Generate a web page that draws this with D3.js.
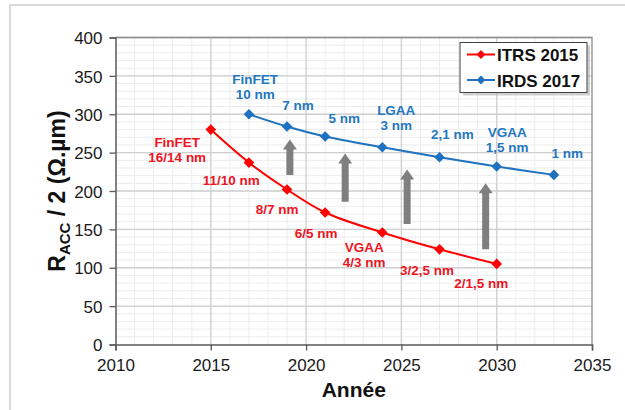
<!DOCTYPE html>
<html>
<head>
<meta charset="utf-8">
<script src="https://cdn.jsdelivr.net/npm/d3@7"></script>
<style>
  body { margin: 0; background: #fff; }
  text { font-family: "Liberation Sans", Arial, sans-serif; }
</style>
</head>
<body>
<svg id="chart" width="625" height="410"></svg>
<script>
// data
const itrs_years = [2015, 2017, 2019, 2021, 2024, 2027, 2030];
const itrs_values = [280, 237, 202, 172, 146, 124, 105];
const irds_years = [2017, 2019, 2021, 2024, 2027, 2030, 2033];
const irds_values = [300, 284, 271, 257, 244, 232, 221];

const x_ticks = [2010, 2015, 2020, 2025, 2030, 2035];
const y_ticks = [0, 50, 100, 150, 200, 250, 300, 350, 400];

// node labels: text lines, anchored at (year, value) of first baseline
const irds_labels = [
  { lines: ["FinFET", "10 nm"], year: 2017.33, value: 340 },
  { lines: ["7 nm"], year: 2019.58, value: 305 },
  { lines: ["5 nm"], year: 2022.0, value: 288 },
  { lines: ["LGAA", "3 nm"], year: 2024.73, value: 299 },
  { lines: ["2,1 nm"], year: 2027.67, value: 267.5 },
  { lines: ["VGAA", "1,5 nm"], year: 2030.55, value: 270.5 },
  { lines: ["1 nm"], year: 2033.7, value: 242.5 },
];
const itrs_labels = [
  { lines: ["FinFET", "16/14 nm"], year: 2013.24, value: 257.5 },
  { lines: ["11/10 nm"], year: 2016.07, value: 207.6 },
  { lines: ["8/7 nm"], year: 2018.48, value: 169.4 },
  { lines: ["6/5 nm"], year: 2020.53, value: 138.5 },
  { lines: ["VGAA", "4/3 nm"], year: 2023.05, value: 120.7 },
  { lines: ["3/2,5 nm"], year: 2026.34, value: 90.3 },
  { lines: ["2/1,5 nm"], year: 2029.19, value: 73.4 },
];

// grey arrows: year, from value, to value (tip)
const arrows = [
  { year: 2019.15, from: 221, to: 267 },
  { year: 2022.05, from: 186, to: 249 },
  { year: 2025.3, from: 157, to: 228 },
  { year: 2029.42, from: 124, to: 210 },
];

const red = "#ff0000";
const blue = "#1f72bf";
const red_text = "#f0141e";
const blue_text = "#2377c0";

const svg = d3.select("#chart");

// outer frame
svg.append("rect")
  .attr("x", 10).attr("y", 5)
  .attr("width", 640).attr("height", 430)
  .attr("fill", "none")
  .attr("stroke", "#d9d9d9")
  .attr("stroke-width", 2);

const plot_left = 115.5, plot_right = 592, plot_top = 37.5, plot_bottom = 344.5;

const x = d3.scaleLinear().domain([2010, 2035]).range([plot_left, plot_right]);
const y = d3.scaleLinear().domain([0, 400]).range([plot_bottom, plot_top]);

// minor grid
const g_minor = svg.append("g");
g_minor.selectAll("line.vx")
  .data(d3.range(2011, 2035))
  .enter().append("line")
  .attr("x1", d => x(d)).attr("x2", d => x(d))
  .attr("y1", plot_top).attr("y2", plot_bottom)
  .attr("stroke", "#ececec").attr("stroke-width", 1);
g_minor.selectAll("line.hy")
  .data(d3.range(10, 400, 10))
  .enter().append("line")
  .attr("x1", plot_left).attr("x2", plot_right)
  .attr("y1", d => y(d)).attr("y2", d => y(d))
  .attr("stroke", "#ececec").attr("stroke-width", 1);

// major grid
const g_major = svg.append("g");
g_major.selectAll("line.vx")
  .data(x_ticks.slice(1, -1))
  .enter().append("line")
  .attr("x1", d => x(d)).attr("x2", d => x(d))
  .attr("y1", plot_top).attr("y2", plot_bottom)
  .attr("stroke", "#cfcfcf").attr("stroke-width", 1.3);
g_major.selectAll("line.hy")
  .data(y_ticks.slice(1))
  .enter().append("line")
  .attr("x1", plot_left).attr("x2", plot_right)
  .attr("y1", d => y(d)).attr("y2", d => y(d))
  .attr("stroke", "#cfcfcf").attr("stroke-width", 1.3);

// plot border (top and right)
svg.append("path")
  .attr("d", `M${plot_left},${plot_top}H${plot_right}V${plot_bottom}`)
  .attr("fill", "none")
  .attr("stroke", "#8c8c8c")
  .attr("stroke-width", 1.3);

// axes
const x_axis = svg.append("g")
  .attr("transform", `translate(0,${plot_bottom})`)
  .call(d3.axisBottom(x).tickValues(x_ticks).tickFormat(d3.format("d")).tickSizeOuter(0).tickSize(6).tickPadding(8));
const y_axis = svg.append("g")
  .attr("transform", `translate(${plot_left},0)`)
  .call(d3.axisLeft(y).tickValues(y_ticks).tickSizeOuter(0).tickSize(6).tickPadding(7));

[x_axis, y_axis].forEach(a => {
  a.select(".domain").attr("stroke", "#595959").attr("stroke-width", 1.5);
  a.selectAll(".tick line").attr("stroke", "#595959").attr("stroke-width", 1.3);
  a.selectAll(".tick text")
    .attr("fill", "#1a1a1a")
    .style("font-size", "17px")
    .style("font-family", "'Liberation Sans', Arial, sans-serif");
});
y_axis.selectAll(".tick text").attr("dy", "0.36em");

// arrows
const arrow_path = d => {
  const cx = x(d.year), y0 = y(d.from), y1 = y(d.to);
  const sw = 3.5, hw = 7, hh = 10;
  return `M${cx - sw},${y0}V${y1 + hh}H${cx - hw}L${cx},${y1}L${cx + hw},${y1 + hh}H${cx + sw}V${y0}Z`;
};
svg.append("g").selectAll("path")
  .data(arrows)
  .enter().append("path")
  .attr("d", arrow_path)
  .attr("fill", "#7f7f7f");

// series
const series = [
  { name: "ITRS 2015", years: itrs_years, values: itrs_values, color: red },
  { name: "IRDS 2017", years: irds_years, values: irds_values, color: blue },
];

const line = d3.line()
  .x(d => x(d[0]))
  .y(d => y(d[1]))
  .curve(d3.curveCatmullRom.alpha(0.5));

const diamond = d3.symbol().type(d3.symbolDiamond2).size(72);

series.forEach(s => {
  const pts = s.years.map((yr, i) => [yr, s.values[i]]);
  svg.append("path")
    .datum(pts)
    .attr("d", line)
    .attr("fill", "none")
    .attr("stroke", s.color)
    .attr("stroke-width", 2);
  svg.append("g").selectAll("path")
    .data(pts)
    .enter().append("path")
    .attr("d", diamond)
    .attr("transform", d => `translate(${x(d[0])},${y(d[1])})`)
    .attr("fill", s.color);
});

// node labels
function draw_labels(labels, color) {
  const t = svg.append("g").selectAll("text")
    .data(labels)
    .enter().append("text")
    .attr("x", d => x(d.year))
    .attr("y", d => y(d.value))
    .attr("text-anchor", "middle")
    .attr("fill", color)
    .style("font-size", "13.5px")
    .style("font-weight", "bold");
  t.each(function (d) {
    const el = d3.select(this);
    d.lines.forEach((ln, i) => {
      el.append("tspan")
        .attr("x", x(d.year))
        .attr("dy", i === 0 ? 0 : 15)
        .text(ln);
    });
  });
}
draw_labels(irds_labels, blue_text);
draw_labels(itrs_labels, red_text);

// legend
const leg = svg.append("g").attr("transform", "translate(460,42.5)");
leg.append("rect")
  .attr("x", 3).attr("y", 3)
  .attr("width", 127).attr("height", 50)
  .attr("fill", "#b0b0b0")
  .attr("opacity", 0.6);
leg.append("rect")
  .attr("width", 127).attr("height", 50)
  .attr("fill", "#fff")
  .attr("stroke", "#404040")
  .attr("stroke-width", 1);
series.forEach((s, i) => {
  const ly = 12 + i * 25.5;
  leg.append("line")
    .attr("x1", 7).attr("x2", 35)
    .attr("y1", ly).attr("y2", ly)
    .attr("stroke", s.color).attr("stroke-width", 2);
  leg.append("path")
    .attr("d", d3.symbol().type(d3.symbolDiamond2).size(50))
    .attr("transform", `translate(21,${ly})`)
    .attr("fill", s.color);
  leg.append("text")
    .attr("x", 37).attr("y", ly + 6.5)
    .attr("fill", "#111")
    .style("font-size", "17px")
    .style("font-weight", "bold")
    .text(s.name);
});

// axis titles
svg.append("text")
  .attr("x", (plot_left + plot_right) / 2)
  .attr("y", 397)
  .attr("text-anchor", "middle")
  .attr("fill", "#111")
  .style("font-size", "21px")
  .style("font-weight", "bold")
  .text("Année");

const yt = svg.append("text")
  .attr("transform", `translate(65,${(plot_top + plot_bottom) / 2}) rotate(-90)`)
  .attr("text-anchor", "middle")
  .attr("fill", "#111")
  .style("font-size", "23px")
  .style("font-weight", "bold");
yt.append("tspan").text("R");
yt.append("tspan").attr("dy", 5).style("font-size", "15px").text("ACC");
yt.append("tspan").attr("dy", -5).text(" / 2 (Ω.µm)");
</script>
</body>
</html>
